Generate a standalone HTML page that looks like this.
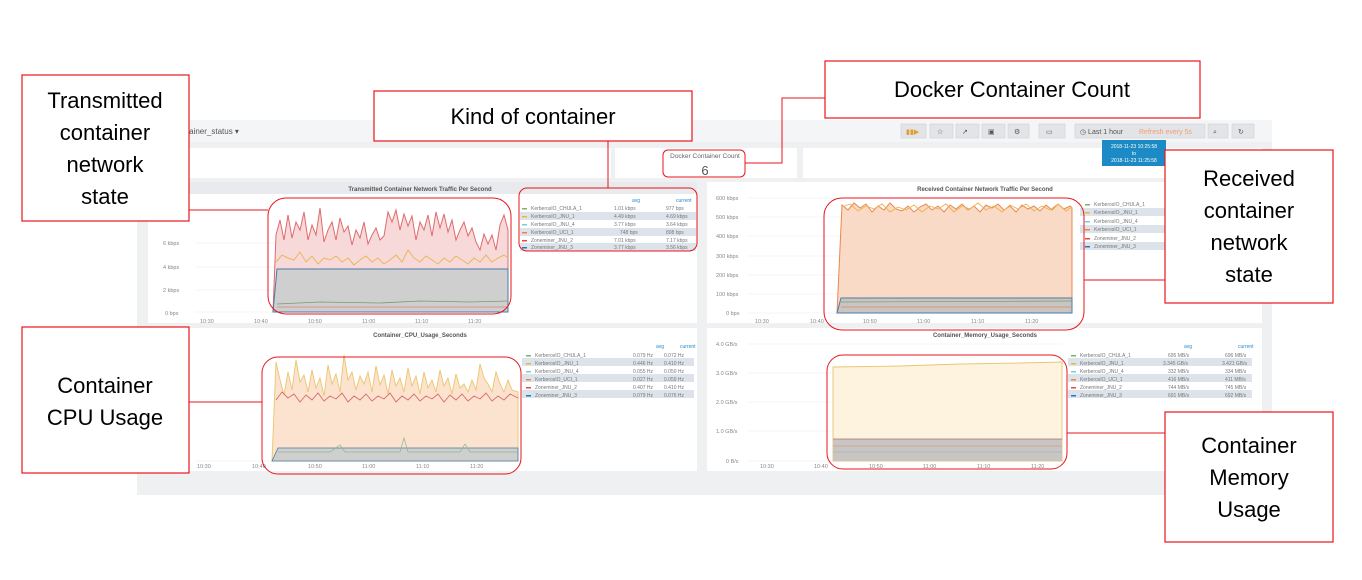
<!DOCTYPE html>
<html><head><meta charset="utf-8"><style>
html,body{margin:0;padding:0;background:#fff;}
svg{display:block;font-family:"Liberation Sans",sans-serif;}
</style></head><body>
<svg width="1362" height="580" viewBox="0 0 1362 580" xmlns="http://www.w3.org/2000/svg">
<rect width="1362" height="580" fill="#fff"/>
<!-- dashboard -->
<rect x="137" y="120" width="1135" height="375" fill="#eff0f2"/>
<rect x="137" y="120" width="1135" height="22" fill="#f4f5f6"/>
<text x="178" y="134" font-size="8" fill="#555">ontainer_status ▾</text>
<g fill="#e2e4e7" stroke="#cfd2d6" stroke-width="0.6">
<rect x="901" y="124" width="25" height="14"/><rect x="930" y="124" width="23" height="14"/><rect x="956" y="124" width="23" height="14"/><rect x="982" y="124" width="23" height="14"/><rect x="1008" y="124" width="21" height="14"/><rect x="1039" y="124" width="26" height="14"/><rect x="1075" y="124" width="130" height="14"/><rect x="1208" y="124" width="20" height="14"/><rect x="1232" y="124" width="22" height="14"/>
</g>
<g font-size="7" fill="#555">
<text x="906" y="134" fill="#e39b2c">▮▮▶</text><text x="937" y="134">☆</text><text x="962" y="134">↗</text><text x="988" y="134">▣</text><text x="1014" y="134">⚙</text><text x="1046" y="134">▭</text>
<text x="1080" y="134">◷ Last 1 hour</text><text x="1139" y="134" fill="#f0a070">Refresh every 5s</text><text x="1213" y="134">⌕</text><text x="1238" y="134">↻</text>
</g>
<!-- row panels -->
<rect x="148" y="148" width="463" height="30" fill="#fff"/>
<rect x="615" y="148" width="182" height="30" fill="#fff"/>
<rect x="803" y="148" width="459" height="30" fill="#fff"/>
<text x="705" y="158" font-size="6.5" fill="#666" text-anchor="middle">Docker Container Count</text>
<text x="705" y="175" font-size="13" fill="#555" text-anchor="middle">6</text>
<rect x="1102" y="140" width="64" height="26" fill="#1c8ac4"/>
<g font-size="5" fill="#fff" text-anchor="middle"><text x="1134" y="148">2018-11-23 10:25:58</text><text x="1134" y="155">to</text><text x="1134" y="162">2018-11-23 11:25:58</text></g>
<!-- graph panels -->
<rect x="148" y="182" width="549" height="141" fill="#fff"/>
<rect x="148" y="182" width="549" height="12" fill="#e8eaee"/>
<rect x="707" y="182" width="555" height="141" fill="#fff"/>
<rect x="148" y="328" width="549" height="143" fill="#fff"/>
<rect x="707" y="328" width="555" height="143" fill="#fff"/>
<g font-size="6" fill="#555" text-anchor="middle" font-weight="bold">
<text x="420" y="191">Transmitted Container Network Traffic Per Second</text>
<text x="985" y="191">Received Container Network Traffic Per Second</text>
<text x="420" y="337">Container_CPU_Usage_Seconds</text>
<text x="985" y="337">Container_Memory_Usage_Seconds</text>
</g>
<!-- grid -->
<g stroke="#eceef0" stroke-width="0.6">
<line x1="195" y1="243" x2="508" y2="243"/><line x1="195" y1="267" x2="508" y2="267"/><line x1="195" y1="290" x2="508" y2="290"/><line x1="195" y1="312" x2="508" y2="312"/>
<line x1="748" y1="198" x2="1072" y2="198"/><line x1="748" y1="217" x2="1072" y2="217"/><line x1="748" y1="236" x2="1072" y2="236"/><line x1="748" y1="256" x2="1072" y2="256"/><line x1="748" y1="275" x2="1072" y2="275"/><line x1="748" y1="294" x2="1072" y2="294"/><line x1="748" y1="313" x2="1072" y2="313"/>
<line x1="748" y1="344" x2="1062" y2="344"/><line x1="748" y1="373" x2="1062" y2="373"/><line x1="748" y1="402" x2="1062" y2="402"/><line x1="748" y1="431" x2="1062" y2="431"/><line x1="748" y1="461" x2="1062" y2="461"/>
<line x1="195" y1="461" x2="520" y2="461"/>
</g>
<g font-size="5.5" fill="#888">
<text x="163" y="245">6 kbps</text><text x="163" y="269">4 kbps</text><text x="163" y="292">2 kbps</text><text x="165" y="315">0 bps</text>
<text x="200" y="323">10:30</text><text x="254" y="323">10:40</text><text x="308" y="323">10:50</text><text x="362" y="323">11:00</text><text x="415" y="323">11:10</text><text x="468" y="323">11:20</text>
<text x="716" y="200">600 kbps</text><text x="716" y="219">500 kbps</text><text x="716" y="238">400 kbps</text><text x="716" y="258">300 kbps</text><text x="716" y="277">200 kbps</text><text x="716" y="296">100 kbps</text><text x="726" y="315">0 bps</text>
<text x="755" y="323">10:30</text><text x="810" y="323">10:40</text><text x="863" y="323">10:50</text><text x="917" y="323">11:00</text><text x="971" y="323">11:10</text><text x="1025" y="323">11:20</text>
<text x="197" y="468">10:30</text><text x="252" y="468">10:40</text><text x="308" y="468">10:50</text><text x="362" y="468">11:00</text><text x="416" y="468">11:10</text><text x="470" y="468">11:20</text>
<text x="716" y="346">4.0 GB/s</text><text x="716" y="375">3.0 GB/s</text><text x="716" y="404">2.0 GB/s</text><text x="716" y="433">1.0 GB/s</text><text x="726" y="463">0 B/s</text>
<text x="760" y="468">10:30</text><text x="814" y="468">10:40</text><text x="869" y="468">10:50</text><text x="923" y="468">11:00</text><text x="977" y="468">11:10</text><text x="1031" y="468">11:20</text>
</g>
<!-- TX chart -->
<polygon points="273,312 276,235 280,220 284,240 288,215 292,238 296,222 300,230 304,212 308,240 312,225 316,235 320,208 324,242 328,230 332,222 336,240 340,218 344,232 348,226 352,245 356,230 360,238 364,222 368,244 372,235 376,228 380,240 384,236 388,212 392,222 396,210 400,230 404,214 408,226 412,216 416,240 420,222 424,230 428,215 432,236 436,212 440,228 444,214 448,232 452,220 456,240 460,230 464,222 468,236 472,228 476,242 480,250 484,234 488,244 492,235 496,250 500,225 504,215 508,230 508,312" fill="#f7d9da" stroke="#e06a6d" stroke-width="1"/>
<polyline points="276,262 282,255 288,258 294,260 300,252 306,262 312,256 318,264 324,258 330,260 336,256 342,262 348,258 354,265 360,260 366,256 372,262 378,258 384,264 390,260 396,255 402,262 408,250 414,258 420,262 426,256 432,260 438,264 444,258 450,262 456,256 462,260 468,264 474,258 480,262 486,255 492,262 498,258 504,255 508,258" fill="none" stroke="#eab85a" stroke-width="1"/>
<polygon points="273,312 277,269 508,269 508,312" fill="#cfcfcf" stroke="#4a79a8" stroke-width="1"/>
<polyline points="277,304 320,302 380,303 420,301 470,302 508,301" fill="none" stroke="#7a9a6e" stroke-width="0.8"/>
<polyline points="277,307 508,307" fill="none" stroke="#d4886a" stroke-width="0.8"/>
<!-- RX chart -->
<polygon points="837,313 842,205 848,210 854,203 860,208 866,204 872,212 878,206 884,210 890,203 896,209 902,211 908,206 914,212 920,207 926,204 932,210 938,206 944,212 950,205 956,209 962,204 968,210 974,206 980,212 986,205 992,208 998,204 1004,210 1010,206 1016,212 1022,205 1028,209 1034,206 1040,211 1046,205 1052,210 1058,204 1064,209 1070,206 1072,208 1072,313" fill="#f9dac6" stroke="#e8884e" stroke-width="1"/>
<polyline points="842,207 850,204 858,211 866,206 874,209 882,204 890,212 898,207 906,210 914,205 922,212 930,206 938,209 946,204 954,212 962,206 970,209 978,203 986,210 994,206 1002,212 1010,205 1018,209 1026,204 1034,211 1042,206 1050,210 1058,204 1066,211 1072,207" fill="none" stroke="#f0b04e" stroke-width="0.9"/>
<polygon points="837,313 841,298 1072,298 1072,313" fill="#c9c6c2" stroke="#4a79a8" stroke-width="1"/>
<polyline points="841,302 1072,301" fill="none" stroke="#7a9a6e" stroke-width="0.7"/>
<polyline points="841,307 1072,307" fill="none" stroke="#d4886a" stroke-width="0.7"/>
<!-- CPU chart -->
<polygon points="272,461 276,362 280,380 284,395 288,372 292,390 296,360 300,382 304,375 308,392 312,370 316,388 320,378 324,396 328,365 332,384 336,374 340,392 344,355 348,380 352,372 356,390 360,376 364,384 368,372 372,392 376,366 380,385 384,375 388,394 392,370 396,386 400,378 404,392 408,368 412,386 416,376 420,394 424,372 428,388 432,380 436,392 440,370 444,386 448,378 452,394 456,374 460,388 464,384 468,392 472,380 476,390 480,364 484,378 488,384 492,392 496,372 500,384 504,392 508,380 512,390 518,392 518,461" fill="#fbe3cf" stroke="#ebc56d" stroke-width="0.9"/>
<polyline points="276,400 282,392 288,398 294,394 300,402 306,395 312,400 318,393 324,401 330,396 336,399 342,393 348,402 354,396 360,400 366,394 372,401 378,396 384,399 390,393 396,402 402,396 408,400 414,394 420,401 426,396 432,399 438,394 444,402 450,395 456,400 462,394 468,401 474,396 480,399 486,393 492,401 498,396 504,400 510,394 518,398" fill="none" stroke="#dc6a6a" stroke-width="0.9"/>
<polygon points="272,461 278,448 518,448 518,461" fill="#cfd0cd" stroke="#4a79a8" stroke-width="0.8"/>
<polyline points="278,452 330,452 340,445 345,452 400,452 404,438 408,452 460,452 465,444 470,452 518,452" fill="none" stroke="#8cb596" stroke-width="0.7"/>
<!-- Mem chart -->
<polygon points="833,461 833,367 900,366 960,364 1020,363 1062,362 1062,461" fill="#fdf3df" stroke="#ebc56d" stroke-width="0.9"/>
<rect x="833" y="439" width="229" height="22" fill="#c8c5c3"/>
<line x1="833" y1="439" x2="1062" y2="439" stroke="#a87070" stroke-width="0.8"/>
<line x1="833" y1="446" x2="1062" y2="446" stroke="#d4886a" stroke-width="0.6"/>
<line x1="833" y1="452" x2="1062" y2="452" stroke="#8ab0c0" stroke-width="0.6"/>
<!-- legends -->
<g font-size="5" fill="#777">
<text x="632" y="202" fill="#2a8ad0">avg</text><text x="676" y="202" fill="#2a8ad0">current</text>
<rect x="520" y="212" width="176" height="8" fill="#dde3ea"/><rect x="520" y="228" width="176" height="8" fill="#dde3ea"/><rect x="520" y="243" width="176" height="8" fill="#dde3ea"/>
<rect x="522" y="208" width="5" height="1.5" fill="#7eb26d"/><text x="531" y="210">KerberosIO_CHULA_1</text><text x="614" y="210">1.01 kbps</text><text x="666" y="210">977 bps</text>
<rect x="522" y="216" width="5" height="1.5" fill="#eab839"/><text x="531" y="218">KerberosIO_JNU_1</text><text x="614" y="218">4.49 kbps</text><text x="666" y="218">4.69 kbps</text>
<rect x="522" y="224" width="5" height="1.5" fill="#6ed0e0"/><text x="531" y="226">KerberosIO_JNU_4</text><text x="614" y="226">3.77 kbps</text><text x="666" y="226">3.64 kbps</text>
<rect x="522" y="232" width="5" height="1.5" fill="#ef843c"/><text x="531" y="234">KerberosIO_UCI_1</text><text x="620" y="234">748 bps</text><text x="666" y="234">808 bps</text>
<rect x="522" y="240" width="5" height="1.5" fill="#e24d42"/><text x="531" y="242">Zoneminer_JNU_2</text><text x="614" y="242">7.01 kbps</text><text x="666" y="242">7.17 kbps</text>
<rect x="522" y="247" width="5" height="1.5" fill="#1f78c1"/><text x="531" y="249">Zoneminer_JNU_3</text><text x="614" y="249">3.77 kbps</text><text x="666" y="249">3.56 kbps</text>

<rect x="1080" y="208" width="85" height="8" fill="#dde3ea"/><rect x="1080" y="225" width="85" height="8" fill="#dde3ea"/><rect x="1080" y="242" width="85" height="8" fill="#dde3ea"/>
<rect x="1085" y="204" width="5" height="1.5" fill="#7eb26d"/><text x="1094" y="206">KerberosIO_CHULA_1</text>
<rect x="1085" y="212" width="5" height="1.5" fill="#eab839"/><text x="1094" y="214">KerberosIO_JNU_1</text>
<rect x="1085" y="221" width="5" height="1.5" fill="#6ed0e0"/><text x="1094" y="223">KerberosIO_JNU_4</text>
<rect x="1085" y="229" width="5" height="1.5" fill="#ef843c"/><text x="1094" y="231">KerberosIO_UCI_1</text>
<rect x="1085" y="238" width="5" height="1.5" fill="#e24d42"/><text x="1094" y="240">Zoneminer_JNU_2</text>
<rect x="1085" y="246" width="5" height="1.5" fill="#1f78c1"/><text x="1094" y="248">Zoneminer_JNU_3</text>

<text x="656" y="348" fill="#2a8ad0">avg</text><text x="680" y="348" fill="#2a8ad0">current</text>
<rect x="522" y="358" width="172" height="8" fill="#dde3ea"/><rect x="522" y="374" width="172" height="8" fill="#dde3ea"/><rect x="522" y="390" width="172" height="8" fill="#dde3ea"/>
<rect x="526" y="355" width="5" height="1.5" fill="#7eb26d"/><text x="535" y="357">KerberosIO_CHULA_1</text><text x="633" y="357">0.079 Hz</text><text x="664" y="357">0.072 Hz</text>
<rect x="526" y="363" width="5" height="1.5" fill="#eab839"/><text x="535" y="365">KerberosIO_JNU_1</text><text x="633" y="365">0.446 Hz</text><text x="664" y="365">0.410 Hz</text>
<rect x="526" y="371" width="5" height="1.5" fill="#6ed0e0"/><text x="535" y="373">KerberosIO_JNU_4</text><text x="633" y="373">0.055 Hz</text><text x="664" y="373">0.050 Hz</text>
<rect x="526" y="379" width="5" height="1.5" fill="#ef843c"/><text x="535" y="381">KerberosIO_UCI_1</text><text x="633" y="381">0.027 Hz</text><text x="664" y="381">0.059 Hz</text>
<rect x="526" y="387" width="5" height="1.5" fill="#e24d42"/><text x="535" y="389">Zoneminer_JNU_2</text><text x="633" y="389">0.407 Hz</text><text x="664" y="389">0.410 Hz</text>
<rect x="526" y="395" width="5" height="1.5" fill="#1f78c1"/><text x="535" y="397">Zoneminer_JNU_3</text><text x="633" y="397">0.079 Hz</text><text x="664" y="397">0.076 Hz</text>

<text x="1184" y="348" fill="#2a8ad0">avg</text><text x="1238" y="348" fill="#2a8ad0">current</text>
<rect x="1068" y="358" width="184" height="8" fill="#dde3ea"/><rect x="1068" y="374" width="184" height="8" fill="#dde3ea"/><rect x="1068" y="390" width="184" height="8" fill="#dde3ea"/>
<rect x="1071" y="355" width="5" height="1.5" fill="#7eb26d"/><text x="1080" y="357">KerberosIO_CHULA_1</text><text x="1168" y="357">695 MB/s</text><text x="1225" y="357">696 MB/s</text>
<rect x="1071" y="363" width="5" height="1.5" fill="#eab839"/><text x="1080" y="365">KerberosIO_JNU_1</text><text x="1163" y="365">3.345 GB/s</text><text x="1222" y="365">3.421 GB/s</text>
<rect x="1071" y="371" width="5" height="1.5" fill="#6ed0e0"/><text x="1080" y="373">KerberosIO_JNU_4</text><text x="1168" y="373">332 MB/s</text><text x="1225" y="373">334 MB/s</text>
<rect x="1071" y="379" width="5" height="1.5" fill="#ef843c"/><text x="1080" y="381">KerberosIO_UCI_1</text><text x="1168" y="381">416 MB/s</text><text x="1225" y="381">411 MB/s</text>
<rect x="1071" y="387" width="5" height="1.5" fill="#e24d42"/><text x="1080" y="389">Zoneminer_JNU_2</text><text x="1168" y="389">744 MB/s</text><text x="1225" y="389">745 MB/s</text>
<rect x="1071" y="395" width="5" height="1.5" fill="#1f78c1"/><text x="1080" y="397">Zoneminer_JNU_3</text><text x="1168" y="397">691 MB/s</text><text x="1225" y="397">692 MB/s</text>
</g>
<!-- red highlight boxes -->
<g fill="none" stroke="#e8141b" stroke-width="1">
<rect x="268" y="198" width="243" height="116" rx="18"/>
<rect x="519" y="188" width="178" height="63" rx="8"/>
<rect x="824" y="198" width="260" height="132" rx="18"/>
<rect x="262" y="357" width="259" height="117" rx="16"/>
<rect x="827" y="355" width="240" height="114" rx="16"/>
<rect x="663" y="150" width="82" height="27" rx="5"/>
<!-- connectors -->
<line x1="189" y1="210" x2="268" y2="210"/>
<line x1="608" y1="141" x2="608" y2="188"/>
<polyline points="825,98 782,98 782,163 745,163"/>
<line x1="1084" y1="280" x2="1165" y2="280"/>
<line x1="189" y1="402" x2="262" y2="402"/>
<line x1="1067" y1="433" x2="1165" y2="433"/>
</g>
<!-- callouts -->
<g fill="#fff" stroke="#e8141b" stroke-width="1.2">
<rect x="22" y="75" width="167" height="146"/>
<rect x="374" y="91" width="318" height="50"/>
<rect x="825" y="61" width="375" height="57"/>
<rect x="1165" y="150" width="168" height="153"/>
<rect x="22" y="327" width="167" height="146"/>
<rect x="1165" y="412" width="168" height="130"/>
</g>
<g font-size="22" fill="#000" text-anchor="middle">
<text x="105" y="108">Transmitted</text><text x="105" y="140">container</text><text x="105" y="172">network</text><text x="105" y="204">state</text>
<text x="533" y="124">Kind of container</text>
<text x="1012" y="97">Docker Container Count</text>
<text x="1249" y="186">Received</text><text x="1249" y="218">container</text><text x="1249" y="250">network</text><text x="1249" y="282">state</text>
<text x="105" y="393">Container</text><text x="105" y="425">CPU Usage</text>
<text x="1249" y="453">Container</text><text x="1249" y="485">Memory</text><text x="1249" y="517">Usage</text>
</g>
</svg>
</body></html>
